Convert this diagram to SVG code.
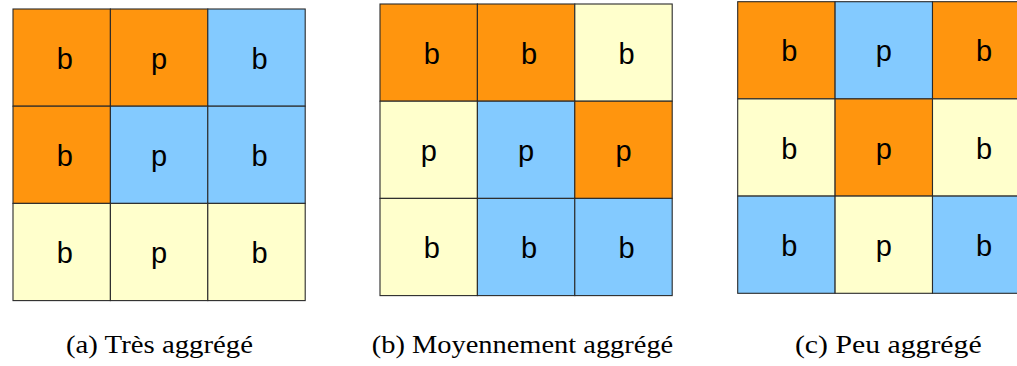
<svg xmlns="http://www.w3.org/2000/svg" width="1017" height="366" viewBox="0 0 1017 366">
<style>
.o{fill:#FF950E}.u{fill:#83CAFF}.y{fill:#FFFFCC}
.g rect{stroke:#2a2a2a;stroke-width:1.1}
.t{font-family:"Liberation Sans",Arial,sans-serif;font-size:29px;fill:#000;text-anchor:middle}
.cap{font-family:"Liberation Serif","Times New Roman",serif;font-size:25px;fill:#000;text-anchor:middle}
</style>
<rect width="1017" height="366" fill="#fff"/>
<g id="grid-a" class="g" transform="translate(13,9)">
<g id="a11"><rect class="o" x="0" y="0" width="97.4" height="97.2"/><text class="t" x="51.7" y="59.7">b</text></g>
<g id="a12"><rect class="o" x="97.4" y="0" width="97.4" height="97.2"/><text class="t" x="146.1" y="59.7">p</text></g>
<g id="a13"><rect class="u" x="194.8" y="0" width="97.4" height="97.2"/><text class="t" x="246.5" y="59.7">b</text></g>
<g id="a21"><rect class="o" x="0" y="97.2" width="97.4" height="97.2"/><text class="t" x="51.7" y="156.9">b</text></g>
<g id="a22"><rect class="u" x="97.4" y="97.2" width="97.4" height="97.2"/><text class="t" x="146.1" y="156.9">p</text></g>
<g id="a23"><rect class="u" x="194.8" y="97.2" width="97.4" height="97.2"/><text class="t" x="246.5" y="156.9">b</text></g>
<g id="a31"><rect class="y" x="0" y="194.4" width="97.4" height="97.2"/><text class="t" x="51.7" y="254.1">b</text></g>
<g id="a32"><rect class="y" x="97.4" y="194.4" width="97.4" height="97.2"/><text class="t" x="146.1" y="254.1">p</text></g>
<g id="a33"><rect class="y" x="194.8" y="194.4" width="97.4" height="97.2"/><text class="t" x="246.5" y="254.1">b</text></g>
</g>
<g id="grid-b" class="g" transform="translate(380,4)">
<g id="b11"><rect class="o" x="0" y="0" width="97.4" height="97.2"/><text class="t" x="51.7" y="59.7">b</text></g>
<g id="b12"><rect class="o" x="97.4" y="0" width="97.4" height="97.2"/><text class="t" x="149.1" y="59.7">b</text></g>
<g id="b13"><rect class="y" x="194.8" y="0" width="97.4" height="97.2"/><text class="t" x="246.5" y="59.7">b</text></g>
<g id="b21"><rect class="y" x="0" y="97.2" width="97.4" height="97.2"/><text class="t" x="48.7" y="156.9">p</text></g>
<g id="b22"><rect class="u" x="97.4" y="97.2" width="97.4" height="97.2"/><text class="t" x="146.1" y="156.9">p</text></g>
<g id="b23"><rect class="o" x="194.8" y="97.2" width="97.4" height="97.2"/><text class="t" x="243.5" y="156.9">p</text></g>
<g id="b31"><rect class="y" x="0" y="194.4" width="97.4" height="97.2"/><text class="t" x="51.7" y="254.1">b</text></g>
<g id="b32"><rect class="u" x="97.4" y="194.4" width="97.4" height="97.2"/><text class="t" x="149.1" y="254.1">b</text></g>
<g id="b33"><rect class="u" x="194.8" y="194.4" width="97.4" height="97.2"/><text class="t" x="246.5" y="254.1">b</text></g>
</g>
<g id="grid-c" class="g" transform="translate(737.7,1.7)">
<g id="c11"><rect class="o" x="0" y="0" width="97.4" height="97.2"/><text class="t" x="51.7" y="59.7">b</text></g>
<g id="c12"><rect class="u" x="97.4" y="0" width="97.4" height="97.2"/><text class="t" x="146.1" y="59.7">p</text></g>
<g id="c13"><rect class="o" x="194.8" y="0" width="97.4" height="97.2"/><text class="t" x="246.5" y="59.7">b</text></g>
<g id="c21"><rect class="y" x="0" y="97.2" width="97.4" height="97.2"/><text class="t" x="51.7" y="156.9">b</text></g>
<g id="c22"><rect class="o" x="97.4" y="97.2" width="97.4" height="97.2"/><text class="t" x="146.1" y="156.9">p</text></g>
<g id="c23"><rect class="y" x="194.8" y="97.2" width="97.4" height="97.2"/><text class="t" x="246.5" y="156.9">b</text></g>
<g id="c31"><rect class="u" x="0" y="194.4" width="97.4" height="97.2"/><text class="t" x="51.7" y="254.1">b</text></g>
<g id="c32"><rect class="y" x="97.4" y="194.4" width="97.4" height="97.2"/><text class="t" x="146.1" y="254.1">p</text></g>
<g id="c33"><rect class="u" x="194.8" y="194.4" width="97.4" height="97.2"/><text class="t" x="246.5" y="254.1">b</text></g>
</g>
<g id="captions">
<text class="cap" x="159.5" y="353" textLength="187" lengthAdjust="spacingAndGlyphs">(a) Très aggrégé</text>
<text class="cap" x="522.5" y="353" textLength="301.5" lengthAdjust="spacingAndGlyphs">(b) Moyennement aggrégé</text>
<text class="cap" x="888.3" y="353" textLength="186.7" lengthAdjust="spacingAndGlyphs">(c) Peu aggrégé</text>
</g>
</svg>
